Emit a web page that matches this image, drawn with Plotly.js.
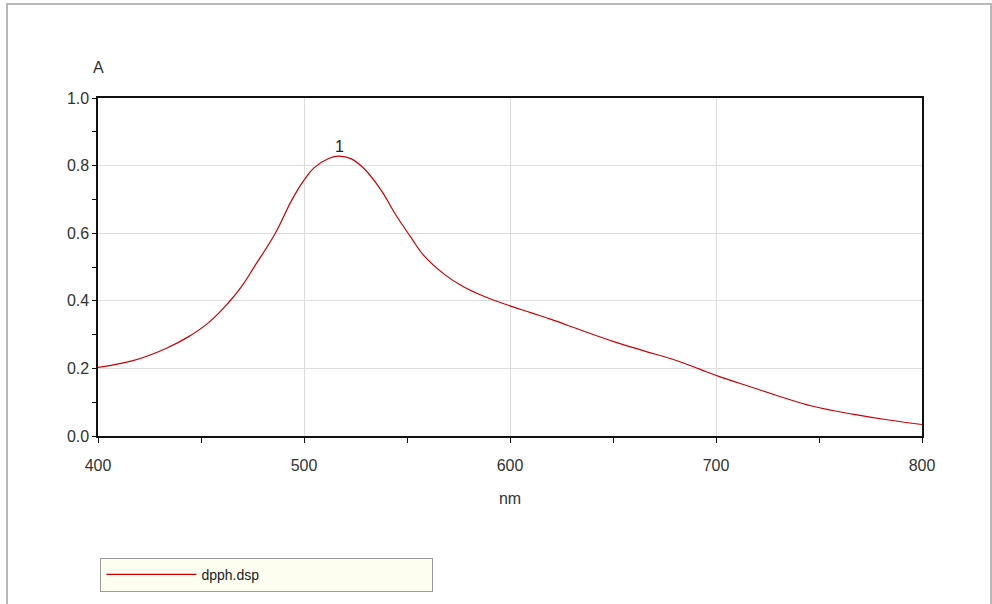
<!DOCTYPE html>
<html>
<head>
<meta charset="utf-8">
<script src="https://cdn.plot.ly/plotly-3.0.1.min.js"></script>
<style>
  html, body { margin: 0; padding: 0; background: #ffffff; }
  #wrap { position: relative; width: 992px; height: 604px; overflow: hidden; }
  #chart { position: absolute; left: 0; top: 0; width: 992px; height: 604px; }
  #frame { position: absolute; left: 6px; top: 3px; width: 982px; height: 640px;
           border: 2px solid #b8b8b8; pointer-events: none; }
</style>
</head>
<body>
<div id="wrap">
  <div id="chart"></div>
  <div id="frame"></div>
</div>
<script>
// Wavelength (nm) and absorbance values
const wavelength = [400, 417, 433, 444, 454, 463, 470, 476, 486, 494, 500, 505, 512, 517, 523, 529, 537, 545, 552, 558, 568, 577, 587, 600, 610, 620, 635, 650, 665, 680, 692, 702, 717, 731, 747, 767, 783, 800];
const absorbance = [0.203, 0.223, 0.259, 0.294, 0.337, 0.392, 0.445, 0.502, 0.599, 0.697, 0.757, 0.794, 0.821, 0.828, 0.820, 0.792, 0.731, 0.650, 0.587, 0.535, 0.479, 0.443, 0.414, 0.385, 0.365, 0.345, 0.312, 0.280, 0.252, 0.225, 0.198, 0.175, 0.145, 0.117, 0.088, 0.064, 0.048, 0.034];
const seriesName = 'dpph.dsp';
const peakLabels = ['1'];
const xTickVals = [400, 500, 600, 700, 800];
const yTickVals = [0.0, 0.2, 0.4, 0.6, 0.8, 1.0];

// locate the peak from the data
let pk = 0;
for (let i = 1; i < absorbance.length; i++) if (absorbance[i] > absorbance[pk]) pk = i;

const font = { family: 'Liberation Sans, Arial, sans-serif', size: 16, color: '#333333' };

const trace = {
  x: wavelength, y: absorbance, name: seriesName,
  type: 'scatter', mode: 'lines',
  line: { color: '#cc0000', width: 1.2, shape: 'spline', smoothing: 1.2 },
  showlegend: true
};

const layout = {
  width: 992, height: 604,
  margin: { l: 98, r: 70, t: 98, b: 164 },
  paper_bgcolor: '#ffffff', plot_bgcolor: '#ffffff',
  font: font,
  showlegend: true,
  legend: {
    x: 0.003, xanchor: 'left', y: -0.36, yanchor: 'top',
    bgcolor: '#fdfdf0', bordercolor: '#9a9a9a', borderwidth: 1,
    orientation: 'h', entrywidth: 226, entrywidthmode: 'pixels',
    itemwidth: 90, tracegroupgap: 0,
    font: { family: font.family, size: 14, color: '#222222' }
  },
  xaxis: {
    range: [400, 800], tickvals: xTickVals, ticktext: xTickVals.map(String),
    showline: true, linecolor: '#111111', linewidth: 1.6, mirror: true,
    ticks: 'outside', ticklen: 5, tickcolor: '#111111', tickwidth: 1,
    ticklabelstandoff: 9,
    showgrid: true, gridcolor: '#dedede', gridwidth: 1, zeroline: false,
    minor: { dtick: 50, ticks: 'outside', ticklen: 5, tickcolor: '#111111', showgrid: false },
    title: { text: 'nm', font: font, standoff: 20 },
    tickfont: font
  },
  yaxis: {
    range: [0, 1], tickvals: yTickVals, ticktext: yTickVals.map(v => v.toFixed(1)),
    showline: true, linecolor: '#111111', linewidth: 1.6, mirror: true,
    ticks: 'outside', ticklen: 4, tickcolor: '#111111', tickwidth: 1,
    showgrid: true, gridcolor: '#dedede', gridwidth: 1, zeroline: false,
    minor: { dtick: 0.1, ticks: 'outside', ticklen: 4, tickcolor: '#111111', showgrid: false },
    tickfont: font
  },
  annotations: [
    { text: 'A', xref: 'paper', yref: 'paper', x: 0, y: 1, xanchor: 'center', yanchor: 'bottom',
      yshift: 20, showarrow: false, font: font },
    { text: peakLabels[0], x: wavelength[pk], y: absorbance[pk], xref: 'x', yref: 'y',
      yanchor: 'bottom', yshift: -1, showarrow: false, font: { family: font.family, size: 16, color: '#222222' } }
  ]
};

Plotly.newPlot('chart', [trace], layout, { staticPlot: true, displayModeBar: false });
</script>
</body>
</html>
